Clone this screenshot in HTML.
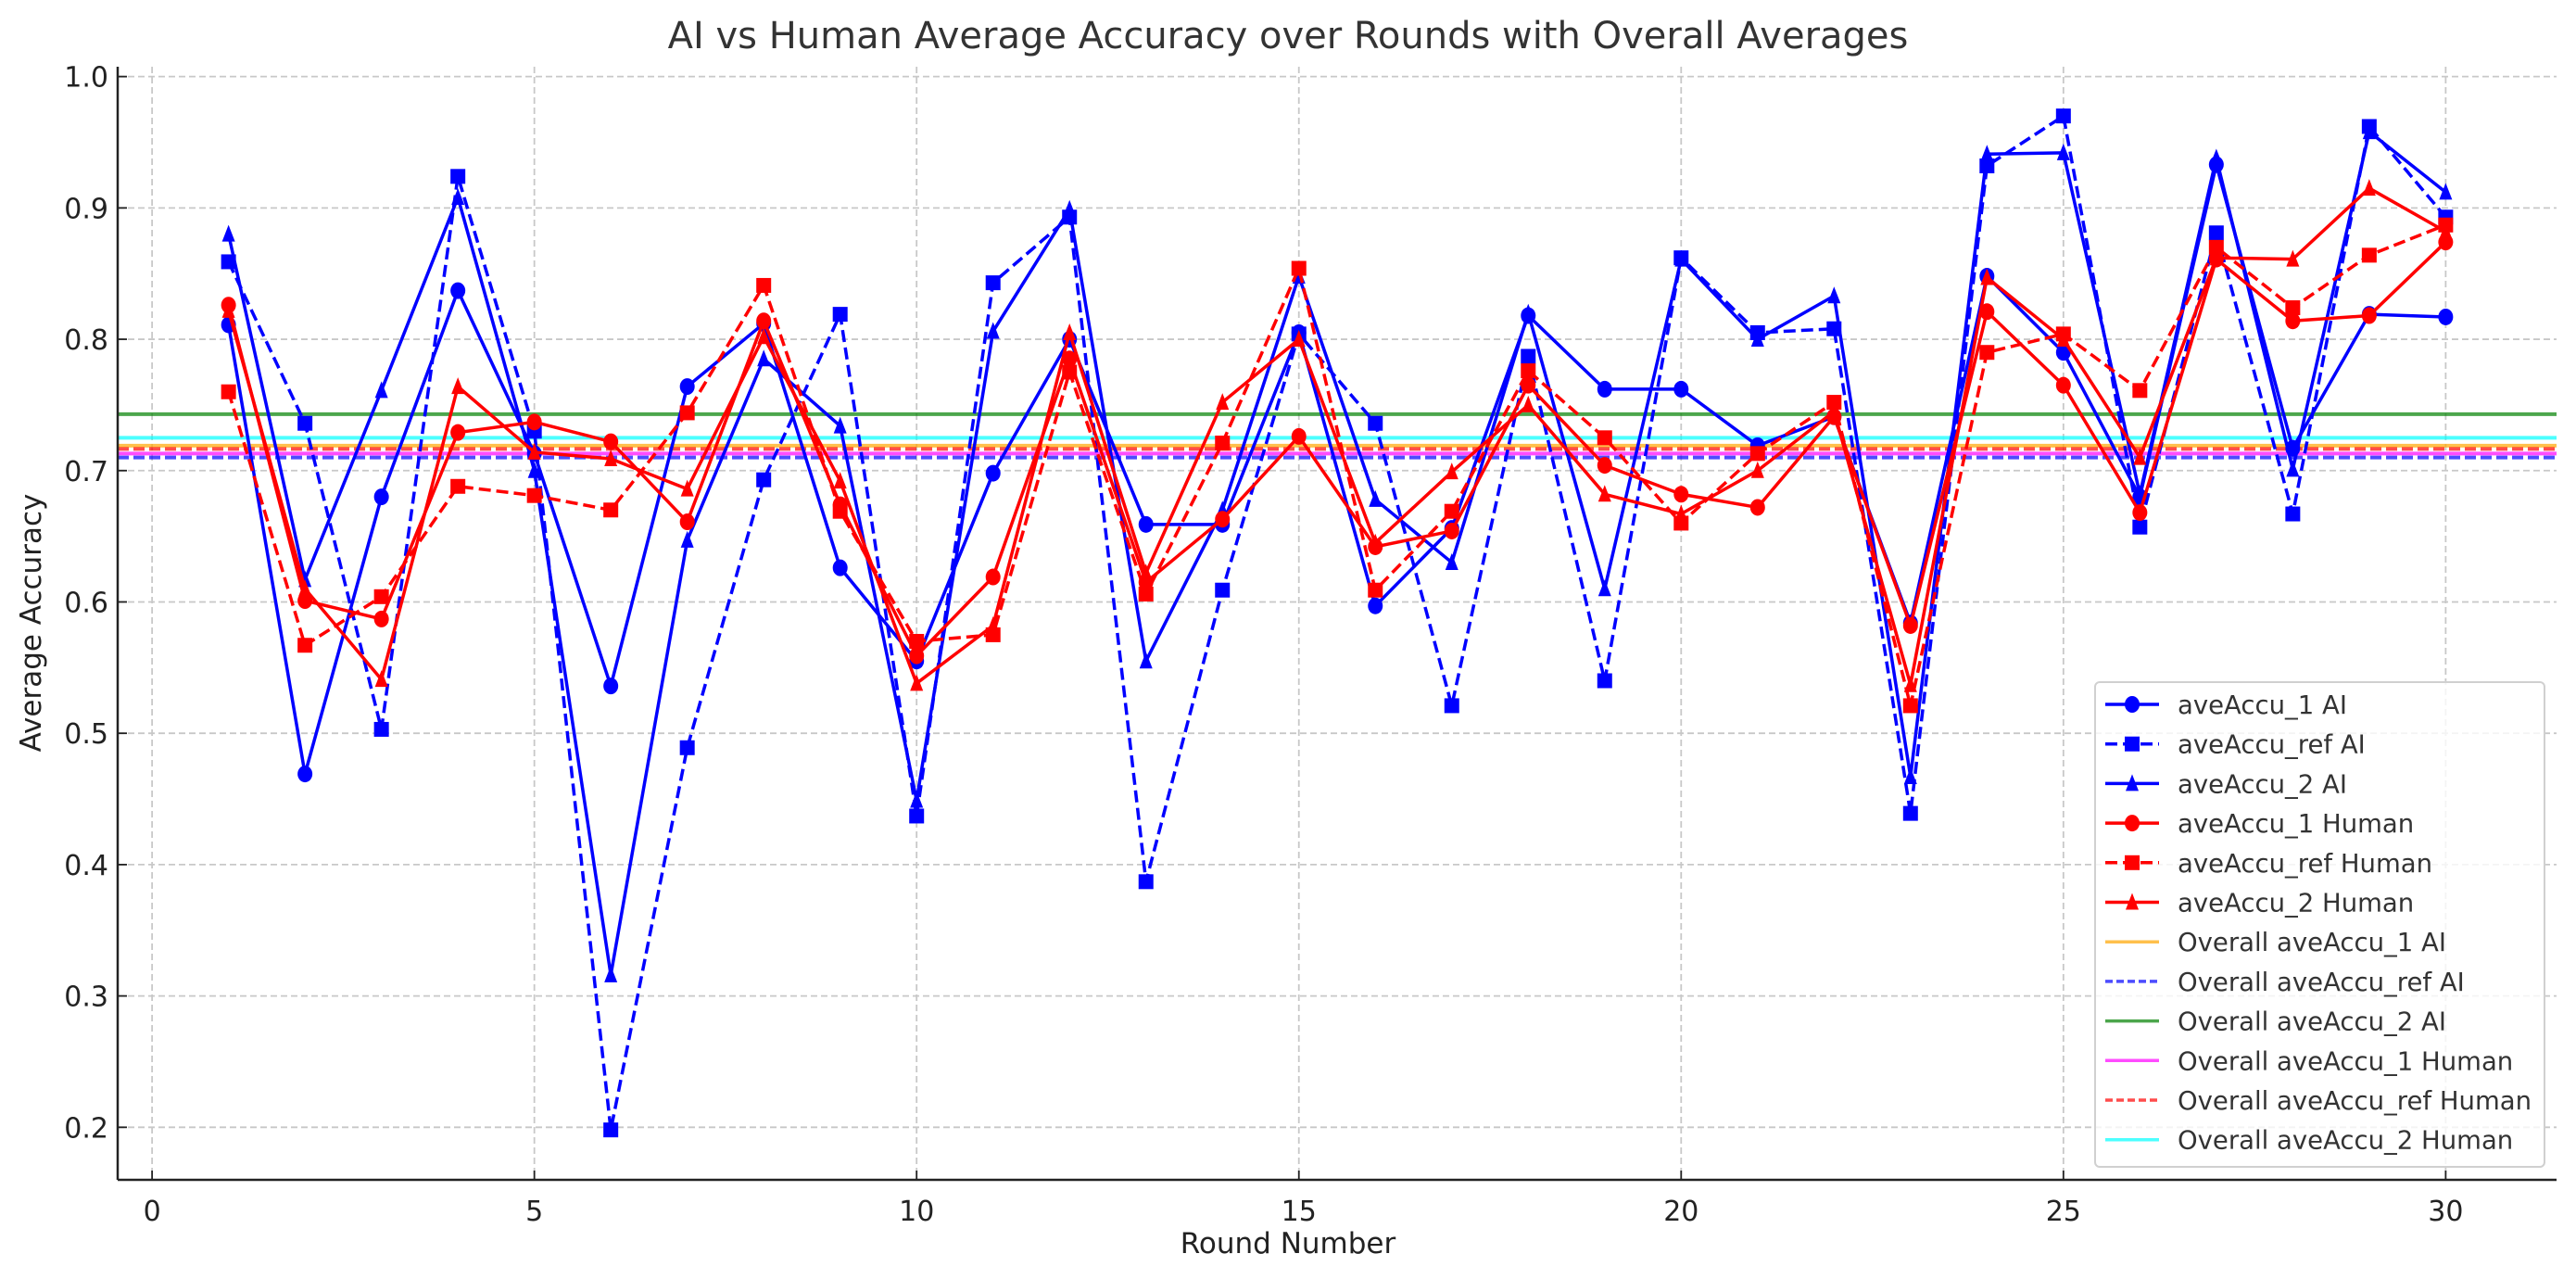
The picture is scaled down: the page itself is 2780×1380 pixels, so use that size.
<!DOCTYPE html>
<html><head><meta charset="utf-8"><style>
body{margin:0;background:#fff}
svg{display:block;font-family:"DejaVu Sans","Liberation Sans",sans-serif}
</style></head><body>
<svg id="chart" width="2780" height="1380" viewBox="0 0 2780 1380" xmlns="http://www.w3.org/2000/svg">
<rect width="2780" height="1380" fill="#fff"/>
<text x="1390" y="52" text-anchor="middle" font-size="40" fill="#333">AI vs Human Average Accuracy over Rounds with Overall Averages</text>
<text x="1390" y="1352" text-anchor="middle" font-size="31" fill="#222">Round Number</text>
<text transform="translate(44,672) rotate(-90)" text-anchor="middle" font-size="31" fill="#222">Average Accuracy</text>
<g id="grid"></g><g id="avg"></g><g id="series"></g><g id="axes"></g><g id="legend"></g>
</svg>
<script>
const rounds = Array.from({length:30},(_,i)=>i+1);
const ai1 = [0.811,0.469,0.680,0.837,0.713,0.536,0.764,0.812,0.626,0.555,0.698,0.800,0.659,0.659,0.805,0.597,0.656,0.818,0.762,0.762,0.719,0.741,0.584,0.848,0.790,0.680,0.933,0.717,0.819,0.817];
const aiRef = [0.859,0.736,0.503,0.924,0.730,0.198,0.489,0.693,0.819,0.437,0.843,0.893,0.387,0.609,0.804,0.736,0.521,0.787,0.540,0.862,0.805,0.808,0.439,0.932,0.970,0.657,0.881,0.667,0.962,0.893];
const ai2 = [0.880,0.617,0.761,0.908,0.700,0.316,0.647,0.785,0.734,0.449,0.806,0.899,0.555,0.670,0.848,0.678,0.630,0.820,0.610,0.861,0.800,0.833,0.467,0.941,0.942,0.682,0.938,0.701,0.958,0.912];
const hu1 = [0.826,0.601,0.587,0.729,0.737,0.722,0.661,0.814,0.674,0.559,0.619,0.785,0.615,0.663,0.726,0.642,0.654,0.765,0.704,0.682,0.672,0.741,0.582,0.821,0.765,0.668,0.861,0.814,0.818,0.874];
const huRef = [0.760,0.567,0.604,0.688,0.681,0.670,0.744,0.841,0.669,0.570,0.575,0.775,0.606,0.721,0.854,0.609,0.669,0.776,0.725,0.660,0.713,0.752,0.521,0.790,0.804,0.761,0.870,0.824,0.864,0.887];
const hu2 = [0.822,0.610,0.541,0.764,0.714,0.709,0.686,0.802,0.692,0.538,0.582,0.805,0.622,0.752,0.800,0.645,0.699,0.750,0.682,0.667,0.700,0.745,0.537,0.847,0.800,0.710,0.862,0.861,0.915,0.882];
const overallVals = [0.719,0.710,0.743,0.713,0.7165,0.725];
const overallLabels = ["Overall aveAccu_1 AI","Overall aveAccu_ref AI","Overall aveAccu_2 AI","Overall aveAccu_1 Human","Overall aveAccu_ref Human","Overall aveAccu_2 Human"];
const xTicks = [0,5,10,15,20,25,30];
const yTicks = [0.2,0.3,0.4,0.5,0.6,0.7,0.8,0.9,1.0];

const L=127,R=2759,T=72,B=1273;
const xMin=-0.45,xMax=31.45,yMin=0.16,yMax=1.0075;
const sx=v=>L+(v-xMin)/(xMax-xMin)*(R-L);
const sy=v=>B-(v-yMin)/(yMax-yMin)*(B-T);
const NS="http://www.w3.org/2000/svg";
function mk(tag,attrs,parent){const e=document.createElementNS(NS,tag);for(const k in attrs)e.setAttribute(k,attrs[k]);parent.appendChild(e);return e;}
const grid=document.getElementById('grid'),axes=document.getElementById('axes'),avg=document.getElementById('avg'),ser=document.getElementById('series'),leg=document.getElementById('legend');

xTicks.forEach(t=>{
 const g=mk('line',{x1:sx(t),x2:sx(t),y1:T,y2:B,stroke:'#c8c8c8','stroke-width':1.8,'stroke-dasharray':'7,4'},grid);
 
 
 const tk=mk('line',{x1:sx(t),x2:sx(t),y1:B,y2:B-10,stroke:'#222','stroke-width':1.8},axes);
 
 
 const tx=mk('text',{x:sx(t),y:B+44,'text-anchor':'middle','font-size':30,fill:'#222'},axes);tx.textContent=String(t);
 
 
});
yTicks.forEach(t=>{
 const g=mk('line',{x1:L,x2:R,y1:sy(t),y2:sy(t),stroke:'#c8c8c8','stroke-width':1.8,'stroke-dasharray':'7,4'},grid);
 
 
 const tk=mk('line',{x1:L,x2:L+10,y1:sy(t),y2:sy(t),stroke:'#222','stroke-width':1.8},axes);
 
 
 const tx=mk('text',{x:L-10,y:sy(t)+11,'text-anchor':'end','font-size':30,fill:'#222'},axes);tx.textContent=t.toFixed(1);
 
 
});
const sp1=mk('line',{x1:L,x2:L,y1:T,y2:B,stroke:'#222','stroke-width':2.5},axes);


const sp2=mk('line',{x1:L,x2:R,y1:B,y2:B,stroke:'#222','stroke-width':2.5},axes);



const avgStyles=[{c:'orange',d:''},{c:'blue',d:'12,5'},{c:'green',d:''},{c:'magenta',d:''},{c:'red',d:'12,5'},{c:'cyan',d:''}];
overallVals.forEach((v,i)=>{
 const l=mk('line',{x1:L,x2:R,y1:sy(v),y2:sy(v),stroke:avgStyles[i].c,'stroke-opacity':0.7,'stroke-width':4,'stroke-dasharray':avgStyles[i].d},avg);
 
 
});

const seriesDefs=[
 {data:ai1,c:'#0000ff',m:'o',d:'',name:'aveAccu_1 AI'},
 {data:aiRef,c:'#0000ff',m:'s',d:'13,6',name:'aveAccu_ref AI'},
 {data:ai2,c:'#0000ff',m:'^',d:'',name:'aveAccu_2 AI'},
 {data:hu1,c:'#ff0000',m:'o',d:'',name:'aveAccu_1 Human'},
 {data:huRef,c:'#ff0000',m:'s',d:'13,6',name:'aveAccu_ref Human'},
 {data:hu2,c:'#ff0000',m:'^',d:'',name:'aveAccu_2 Human'}];
function marker(m,x,y,c,parent){
 let e;
 if(m==='o') e=mk('ellipse',{cx:x,cy:y,rx:8,ry:9,fill:c},parent);
 else if(m==='s') e=mk('rect',{x:x-8,y:y-8,width:16,height:16,fill:c},parent);
 else e=mk('polygon',{points:`${x},${y-10} ${x-7},${y+8} ${x+7},${y+8}`,fill:c},parent);
 return e;
}
seriesDefs.forEach(s=>{
 const g=mk('g',{},ser);
 
 
 const pts=s.data.map((v,i)=>sx(rounds[i])+','+sy(v)).join(' ');
 const pl=mk('polyline',{points:pts,fill:'none',stroke:s.c,'stroke-width':3.5,'stroke-dasharray':s.d,'stroke-linejoin':'round'},g);
 
 
 s.data.forEach((v,i)=>{
  const e=marker(s.m,sx(rounds[i]),sy(v),s.c,g);
  
  
 });
});

const lb=mk('rect',{x:2261,y:736,width:485,height:523,rx:5,fill:'#fff','fill-opacity':0.8,stroke:'#d0d0d0','stroke-width':2},leg);


const entries=seriesDefs.map(s=>({label:s.name,c:s.c,d:s.d,m:s.m,op:1})).concat(overallLabels.map((l,i)=>({label:l,c:avgStyles[i].c,d:avgStyles[i].d?'8,4':'',m:null,op:0.7})));
entries.forEach((en,i)=>{
 const y=760+i*42.7;
 const g=mk('g',{},leg);
 
 
 mk('line',{x1:2272,x2:2330,y1:y,y2:y,stroke:en.c,'stroke-opacity':en.op,'stroke-width':3.5,'stroke-dasharray':en.d},g);
 if(en.m) marker(en.m,2301,y,en.c,g);
 const t=mk('text',{x:2350,y:y+10,'font-size':27.5,fill:'#333'},g);t.textContent=en.label;
});
</script>
</body></html>
